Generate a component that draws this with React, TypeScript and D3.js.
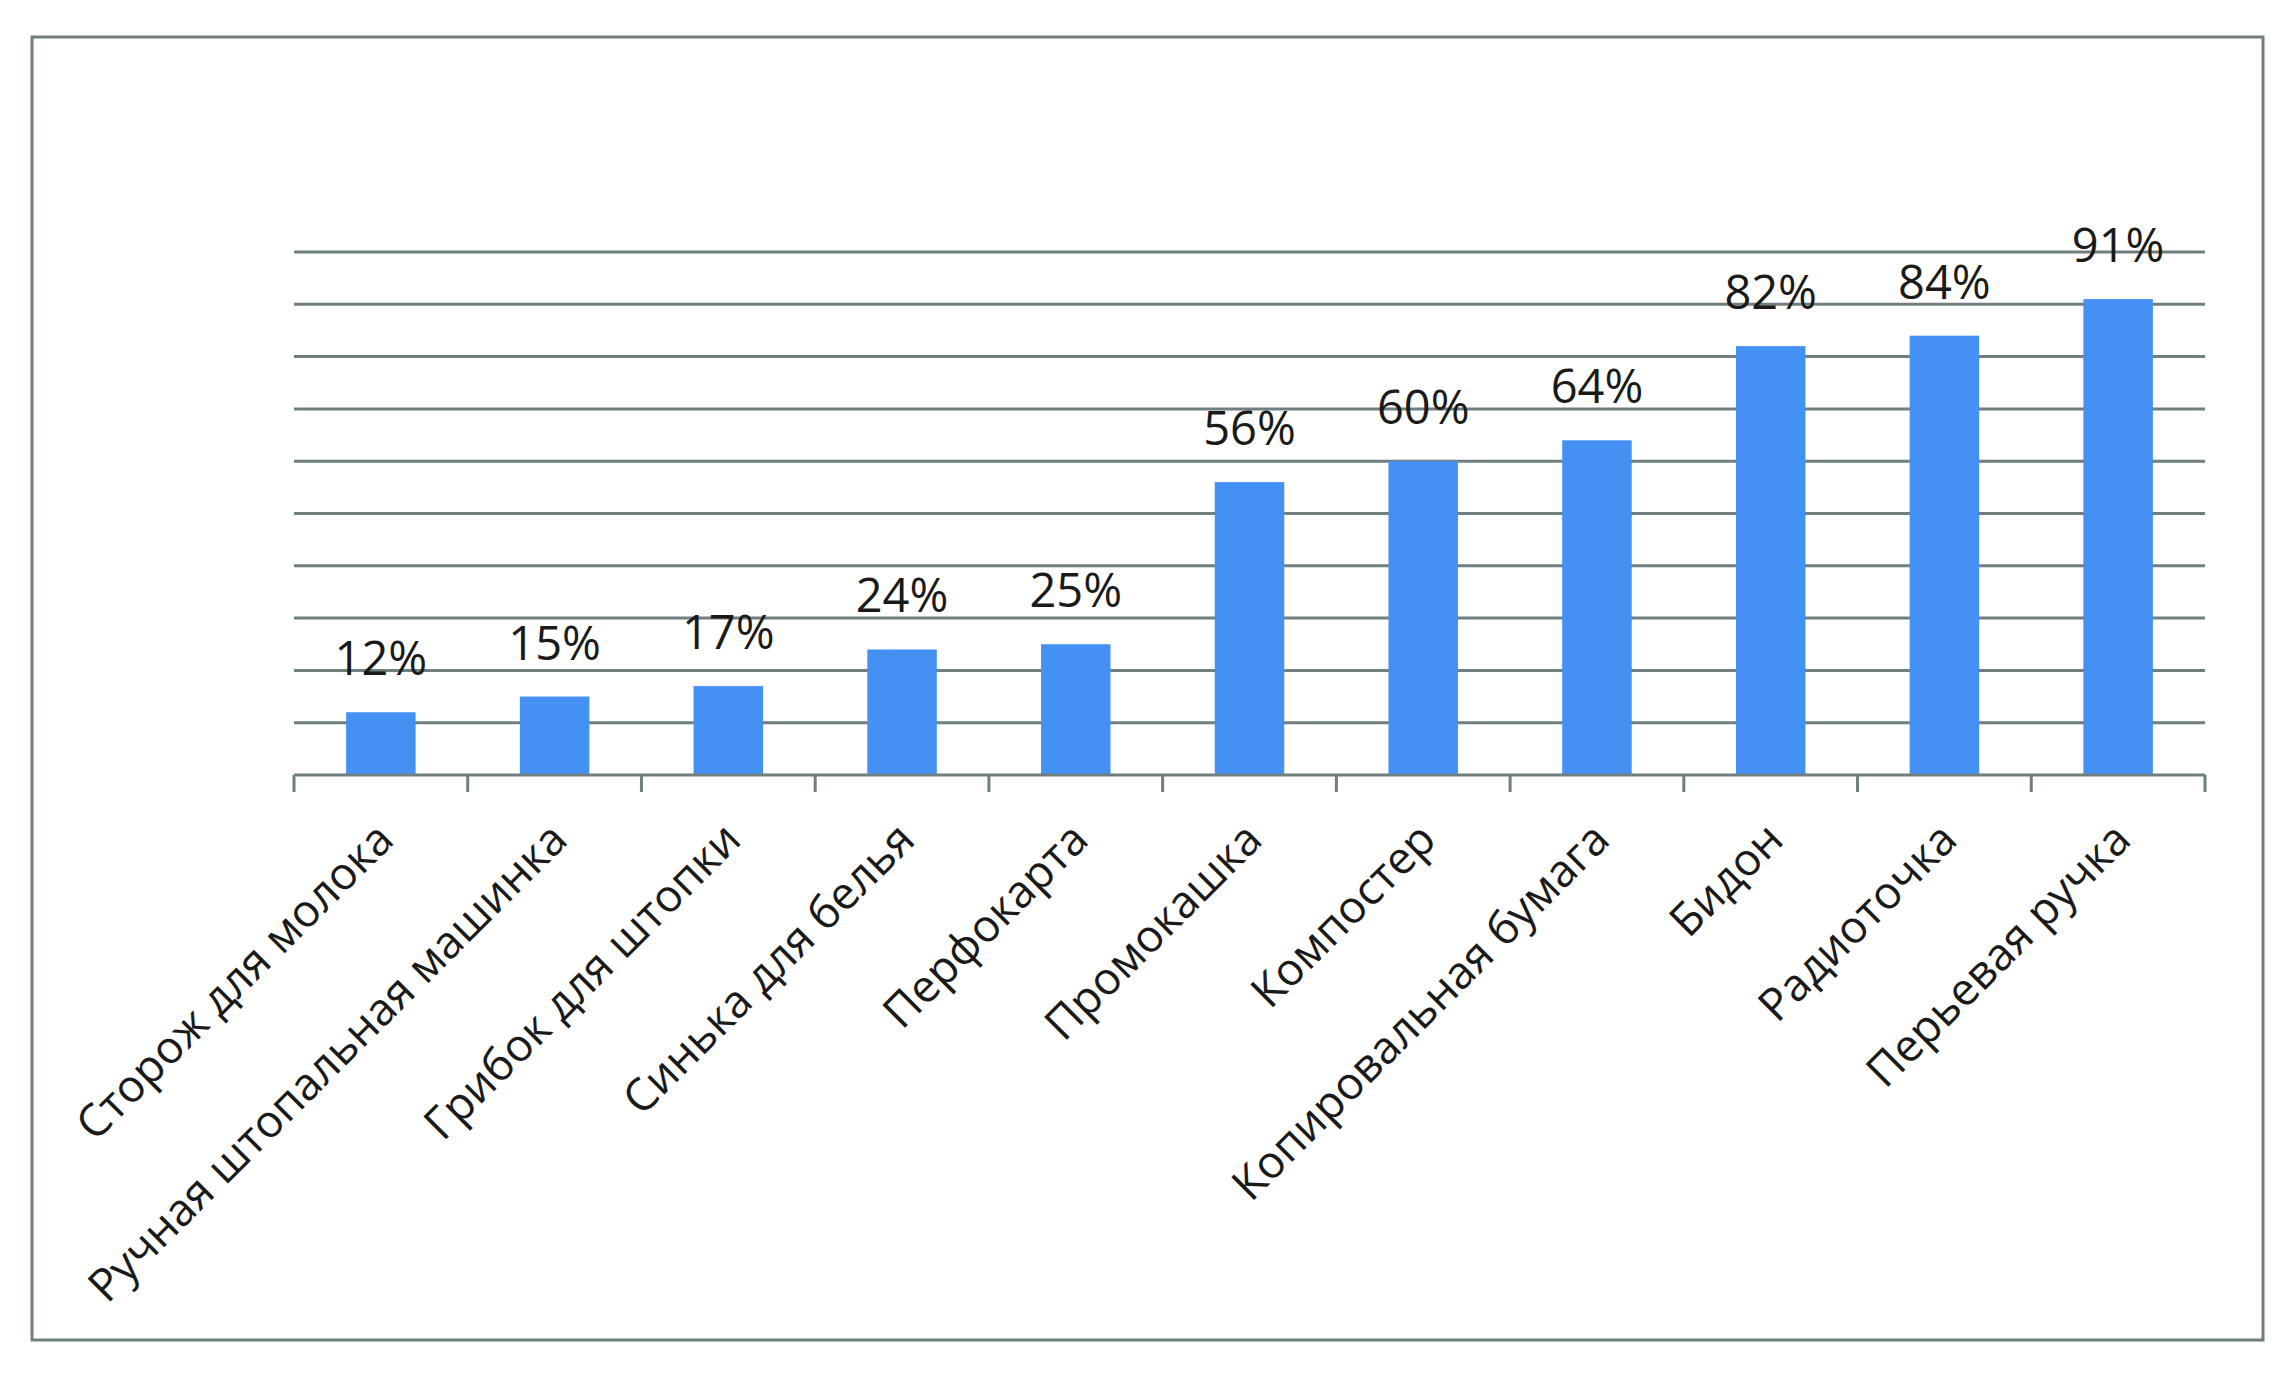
import * as d3 from "d3";
import { useEffect, useRef } from "react";

const categories = [
  "Сторож для молока",
  "Ручная штопальная машинка",
  "Грибок для штопки",
  "Синька для белья",
  "Перфокарта",
  "Промокашка",
  "Компостер",
  "Копировальная бумага",
  "Бидон",
  "Радиоточка",
  "Перьевая ручка",
];

const values = [0.12, 0.15, 0.17, 0.24, 0.25, 0.56, 0.6, 0.64, 0.82, 0.84, 0.91];

const gridTicks = [0.1, 0.2, 0.3, 0.4, 0.5, 0.6, 0.7, 0.8, 0.9, 1.0];

function BarChart() {
  const svgRef = useRef(null);
  const width = 2288;
  const height = 1374;
  const left = 294;
  const right = 2205;
  const top = 252;
  const bottom = 775;
  const lineColor = "#6f7e7f";
  const barColor = "#4590f3";

  useEffect(() => {
    const svg = d3.select(svgRef.current);
    svg.selectAll("*").remove();

    const x = d3
      .scaleBand<string>()
      .domain(categories)
      .range([left, right])
      .paddingInner(0.6)
      .paddingOuter(0.3);

    const y = d3.scaleLinear().domain([0, 1]).range([bottom, top]);

    // chart area border
    svg
      .append("rect")
      .attr("x", 32)
      .attr("y", 37)
      .attr("width", 2263 - 32)
      .attr("height", 1340 - 37)
      .attr("fill", "white")
      .attr("stroke", lineColor)
      .attr("stroke-width", 3);

    // gridlines
    svg
      .append("g")
      .selectAll("line")
      .data(gridTicks)
      .join("line")
      .attr("x1", left)
      .attr("x2", right)
      .attr("y1", (d) => y(d))
      .attr("y2", (d) => y(d))
      .attr("stroke", lineColor)
      .attr("stroke-width", 3);

    // bars
    svg
      .append("g")
      .selectAll("rect")
      .data(values)
      .join("rect")
      .attr("x", (_, i) => x(categories[i])!)
      .attr("y", (d) => y(d))
      .attr("width", x.bandwidth())
      .attr("height", (d) => y(0) - y(d))
      .attr("fill", barColor);

    // category axis + boundary ticks
    svg
      .append("line")
      .attr("x1", left)
      .attr("x2", right)
      .attr("y1", y(0))
      .attr("y2", y(0))
      .attr("stroke", lineColor)
      .attr("stroke-width", 3);

    const step = x.step();
    svg
      .append("g")
      .selectAll("line")
      .data(d3.range(categories.length + 1))
      .join("line")
      .attr("x1", (i) => left + i * step)
      .attr("x2", (i) => left + i * step)
      .attr("y1", y(0))
      .attr("y2", y(0) + 17)
      .attr("stroke", lineColor)
      .attr("stroke-width", 3);

    // value labels
    svg
      .append("g")
      .selectAll("text")
      .data(values)
      .join("text")
      .attr("x", (_, i) => x(categories[i])! + x.bandwidth() / 2)
      .attr("y", (d) => y(d) - 37)
      .attr("text-anchor", "middle")
      .attr("fill", "#1a1a1a")
      .style("font", "47px 'Open Sans', sans-serif")
      .text((d) => `${Math.round(d * 100)}%`);

    // rotated category labels
    svg
      .append("g")
      .selectAll("text")
      .data(categories)
      .join("text")
      .attr(
        "transform",
        (d) =>
          `translate(${x(d)! + x.bandwidth() / 2 + 15},${y(0) + 67}) rotate(-45)`
      )
      .attr("text-anchor", "end")
      .attr("fill", "#1a1a1a")
      .style("font", "45px 'Open Sans', sans-serif")
      .text((d) => d);
  }, []);

  return (
    <svg
      ref={svgRef}
      width={width}
      height={height}
      style={{ position: "absolute", left: 0, top: 0, background: "white" }}
    />
  );
}

export default function App() {
  return <BarChart />;
}
